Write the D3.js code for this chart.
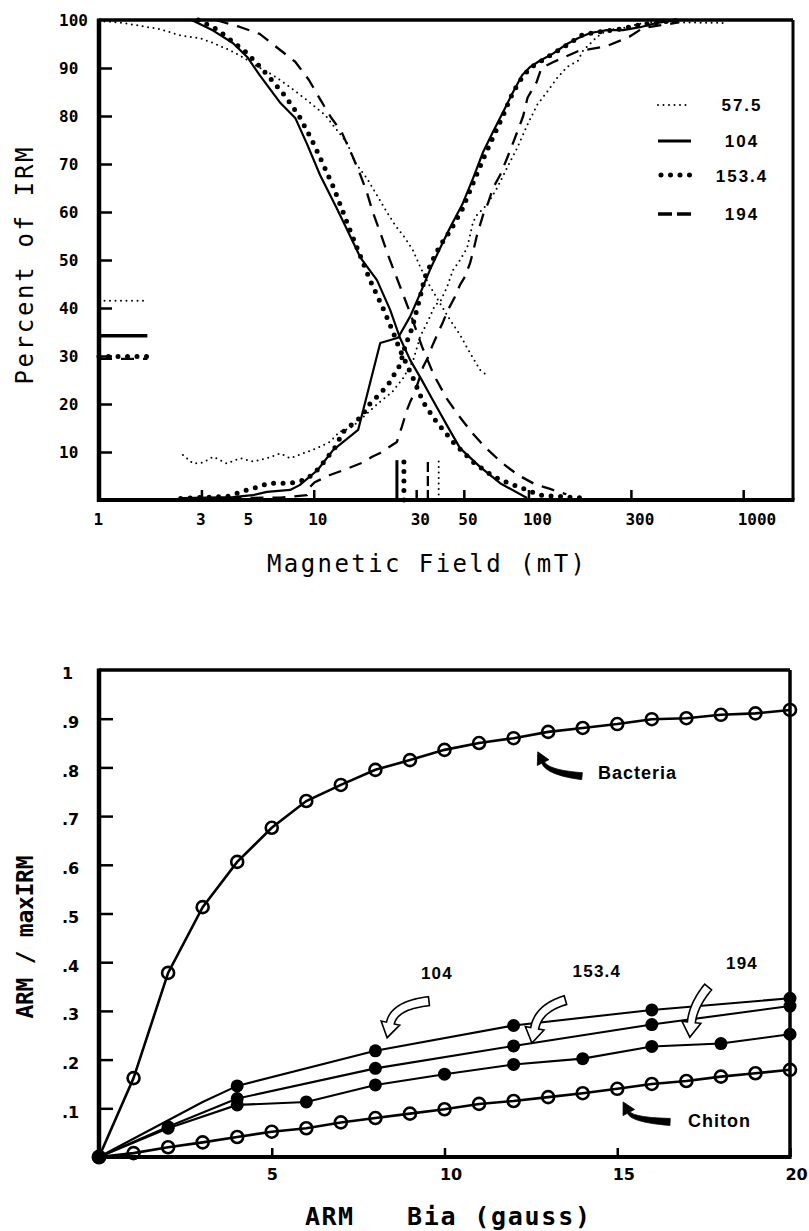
<!DOCTYPE html>
<html><head><meta charset="utf-8">
<script src="https://cdn.jsdelivr.net/npm/d3@7"></script>
<style>body{margin:0;background:#fff}</style>
</head><body>
<svg id="c" width="809" height="1231"></svg>
<script>
// ---------------- DATA : top panel (percent of IRM vs field, mT) ----------------
const seriesNames = ["57.5", "104", "153.4", "194"];
const fieldLabels = [1, 3, 5, 10, 30, 50, 100, 300, 1000];
const fieldTickMarks = [3, 10, 30, 50, 100, 300, 1000];
const percentTicks = [10, 20, 30, 40, 50, 60, 70, 80, 90, 100];

// AF demagnetisation (falling) curves
const desc57 = [[1,99.8],[1.29,99.4],[1.55,98.8],[1.92,98.1],[2.38,96.8],[2.95,96.2],[3.4,95.2],[4.07,93.7],[4.69,92.2],[5.62,90],[6.46,88.5],[7.5,86.5],[9.3,83.3],[11.3,80.2],[12.8,77.1],[14.3,74.4],[15.5,70.5],[16.5,68.8],[17.7,67],[19.7,63.5],[21.9,60],[23.9,57.3],[26.6,54.6],[29,52],[31.3,48.6],[34.1,45.2],[37.9,41.7],[42.2,38.2],[48,34.4],[53.5,30.6],[59.5,27.1],[64,26]];
const desc104 = [[1,100],[2.7,100],[3.4,97.8],[4.2,95.2],[4.9,92.3],[5.6,88.5],[7.0,82.7],[8.2,79.6],[9.3,74.2],[10.7,67.7],[12.8,60.8],[14.7,55.2],[16.5,50.5],[19.7,45.8],[22.7,39.6],[25.2,33.8],[28.1,29.2],[31.3,25.6],[35.9,20.8],[41.8,15.5],[48,10.8],[59.5,6.9],[73.8,3.5],[98.5,0.4]];
const desc153 = [[2.9,100],[3.55,98],[4.0,96.2],[4.9,93.1],[6.1,88.5],[7.35,84.2],[8.5,80.2],[9.8,75],[11,70.2],[12.4,65],[13.8,59.6],[14.6,56.7],[18.3,45.8],[21,40],[23.4,35],[25.2,31.3],[29,25.4],[32.3,20.4],[36.7,16.7],[44.5,12.1],[55.2,7.9],[64,5.8],[74,4.2],[98,2.1],[113,1],[180,0.4]];
const desc194 = [[3.5,100],[4.5,98.6],[5.6,97.1],[7,93.7],[8.2,91.3],[9.5,87.5],[10.7,83.5],[12,79.8],[13.5,76.6],[15.2,71.5],[16.5,67.7],[17.7,64],[18.9,59.8],[20.6,55.2],[22.2,51],[24.4,46.2],[28.1,39],[31.9,32],[36.3,26],[41.8,21],[47.5,17.5],[54.6,14],[63.5,10.8],[75.4,7.7],[89.5,5.2],[107,3.3],[126,2.3],[150,1.2]];

// IRM acquisition (rising) curves
const rise57 = [[2.46,9.4],[2.74,7.6],[3.05,7.8],[3.4,9],[3.94,7.6],[4.54,8.7],[5.22,8],[6.06,8.7],[6.97,9.7],[7.76,8.7],[8.92,9.7],[10.36,10.8],[11.9,12.1],[13.2,14.2],[14.8,15],[16.1,16.3],[17.7,18],[20.4,20.5],[23.2,22.5],[26,25.3],[29,29],[31.3,34],[34.8,38.2],[36.7,40.6],[38.8,41.3],[41.8,44.4],[44.5,47.9],[48,50],[51.8,52.5],[55.2,57.9],[57.6,59.4],[64.1,61.5],[71.4,65],[79.5,69.2],[88.5,73.3],[98.5,78],[109.7,82.3],[122,85],[136,87.9],[151,90.2],[170,91.5],[180,93.7],[209,96.5],[232,97.9],[276,98.3],[342,99.4],[400,99.6],[472,99.5],[806,99.4]];
const rise104 = [[2.44,0.4],[4.2,0.6],[5.2,1],[6.06,1.7],[7.76,2.1],[8.6,3.1],[10.4,6.2],[12.3,10.4],[16.1,14.6],[20.4,32.7],[24.7,33.8],[28.1,38.2],[31.3,43],[34.8,48],[38.8,52.5],[43.1,56.7],[49.1,61.5],[55.2,67],[61.5,72.5],[68.4,76.7],[76.1,80.8],[84.8,85],[93.4,88.5],[101.7,90.2],[113,91.5],[130,93],[151,95],[170,96.2],[194,97.3],[232,97.9],[276,97.9],[331,98.5],[397,99.4],[492,100]];
const rise153 = [[2.4,0.3],[4.0,0.8],[4.9,2.1],[5.5,2.7],[6.2,3.5],[7.1,3.5],[8.0,3.6],[9.1,4.2],[10.1,5.6],[11,7.6],[12.6,11],[13.7,14.2],[16.7,17.4],[18.3,20.1],[20.4,22.2],[22.2,24],[23.9,26.4],[25.2,28.1],[26.6,31.9],[28.7,35.8],[31.3,42.3],[33,46.5],[36.7,51],[38.8,53],[43.1,56],[49.1,60.5],[55.2,66],[61.5,71],[68.4,75.6],[76,80],[84.8,85],[93.4,88],[101.7,90],[113,91.3],[130,93],[151,94.8],[180,97],[210,97.5],[260,98],[330,99],[500,100]];
const rise194 = [[2.5,0.3],[7,0.5],[9.3,1],[9.5,2.5],[10.1,3.7],[11.9,5.2],[13.7,6.2],[16.7,7.7],[18.7,9],[20.4,9.8],[24.4,12.1],[25.7,15.2],[27.2,18.8],[28.1,20.4],[29.6,22.5],[32.3,27.7],[34.1,29.8],[35.5,31.9],[37.9,34.8],[40,37.1],[42.2,39.6],[45.4,42.3],[48,44.8],[50.6,46.5],[53.5,49.4],[55.2,51.7],[57.6,55.2],[61.5,59.4],[65,62],[68.4,65],[73.8,67.7],[79.5,71.2],[84.8,74.4],[91,78],[94.5,80],[99,83.8],[109,87],[115,90],[130,91.2],[170,93.5],[230,94.5],[295,96.5],[340,98.3],[500,99.5]];

// short level marks on the left (percent) and median-field bars at the bottom (mT, percent height)
const leftMarkSeries = ["57.5", "104", "153.4", "194"];
const leftMarkLevel  = [41.5, 34.2, 29.9, 29.4];
const leftMarkField  = [1, 1.68];
const barSeries = ["104", "153.4", "194", "57.5"];
const barField  = [24.4, 26.3, 34, 38.2];
const barHeight = [8.3, 8.8, 8.3, 8.7];

// ---------------- DATA : bottom panel (ARM / maxIRM vs bias field, gauss) ----------------
const biasTicks = [5, 10, 15, 20];
const ratioTicks = [0.1, 0.2, 0.3, 0.4, 0.5, 0.6, 0.7, 0.8, 0.9, 1];
const ratioLabels = [".1", ".2", ".3", ".4", ".5", ".6", ".7", ".8", ".9", "1"];
const biasSteps = [0,1,2,3,4,5,6,7,8,9,10,11,12,13,14,15,16,17,18,19,20];
const bacteria = [0,0.162,0.378,0.513,0.606,0.676,0.731,0.764,0.795,0.815,0.836,0.85,0.86,0.873,0.881,0.889,0.899,0.901,0.908,0.911,0.918];
const chiton   = [0,0.008,0.02,0.03,0.041,0.052,0.059,0.071,0.08,0.089,0.098,0.109,0.115,0.123,0.131,0.14,0.15,0.156,0.165,0.172,0.179];
const arm104 = [[0,0],[3,0.113],[4,0.146],[8,0.218],[12,0.27],[16,0.302],[20,0.326]];
const arm153 = [[0,0],[2,0.062],[4,0.12],[8,0.182],[12,0.228],[16,0.272],[20,0.31]];
const arm194 = [[0,0],[2,0.059],[4,0.107],[6,0.113],[8,0.148],[10,0.17],[12,0.19],[14,0.202],[16,0.227],[18,0.233],[20,0.252]];

// annotations (data coordinates of bottom panel)
const labelNames = ["104", "153.4", "194"];
const labelPos = [[9.78,0.38],[14.41,0.384],[18.61,0.40]];
const hollowArrows = [ // tail, control, tip
  [[9.55,0.320],[8.55,0.312],[8.34,0.245]],
  [[13.5,0.322],[12.72,0.306],[12.53,0.234]],
  [[17.63,0.349],[17.2,0.312],[17.1,0.246]]
];
const noteNames = ["Bacteria", "Chiton"];
const notePos = [[14.44,0.776],[17.05,0.062]];
const solidArrows = [
  [[13.98,0.782],[13.0,0.789],[12.7,0.832]],
  [[16.53,0.072],[15.45,0.076],[15.17,0.113]]
];

// ---------------- DRAWING ----------------
const svg = d3.select("#c");
svg.append("rect").attr("width", 809).attr("height", 1231).attr("fill", "#fff");
const MONO = "DejaVu Sans Mono", SANS = "Liberation Sans";

const style = {
  "57.5":  {w: 2,   dash: "0,5.5", cap: "round"},
  "104":   {w: 2.2, dash: null,    cap: "butt"},
  "153.4": {w: 5,   dash: "0,9.5", cap: "round"},
  "194":   {w: 2.3, dash: "13,9",  cap: "butt"}
};
function styled(sel, name){
  const s = style[name];
  sel.attr("fill","none").attr("stroke","#000").attr("stroke-width", s.w)
     .attr("stroke-linecap", s.cap).attr("stroke-linejoin","round");
  if (s.dash) sel.attr("stroke-dasharray", s.dash);
  return sel;
}

// ---- top panel ----
const xT = d3.scaleLog().domain([1, 1706]).range([99, 793]);
const yT = d3.scaleLinear().domain([0, 100]).range([500, 20]);
const lineT = d3.line().x(d => xT(d[0])).y(d => yT(d[1]));

const topG = svg.append("g");
const curves = [
  ["57.5", desc57], ["57.5", rise57],
  ["104", desc104], ["104", rise104],
  ["153.4", desc153], ["153.4", rise153],
  ["194", desc194], ["194", rise194]
];
curves.forEach(([n, d]) => styled(topG.append("path").attr("d", lineT(d)), n));

leftMarkSeries.forEach((n, i) => {
  const p = topG.append("path").attr("d", lineT(leftMarkField.map(f => [f, leftMarkLevel[i]])));
  styled(p, n);
  if (n === "104") p.attr("stroke-width", 3.5);
});
barSeries.forEach((n, i) => {
  const p = topG.append("path").attr("d", lineT([[barField[i], 0], [barField[i], barHeight[i]]]));
  styled(p, n);
  if (n === "104") p.attr("stroke-width", 3);
  if (n === "194") p.attr("stroke-dasharray", "10,4");
});

// axes top
const gxT = svg.append("g").attr("transform", "translate(0,500)")
  .call(d3.axisBottom(xT).tickValues(fieldLabels).tickFormat(d => String(d)).tickSize(-10).tickPadding(14));
gxT.select(".domain").remove();
gxT.selectAll(".tick line").attr("stroke", "#000").attr("stroke-width", 2.5)
   .attr("opacity", d => fieldTickMarks.includes(d) ? 1 : 0);
gxT.selectAll(".tick text").attr("text-anchor", "start").attr("x", -6)
   .attr("font-family", MONO).attr("font-weight", "bold").attr("font-size", 16).attr("fill", "#000");

const gyT = svg.append("g").attr("transform", "translate(99,0)")
  .call(d3.axisLeft(yT).tickValues(percentTicks).tickFormat(d => String(d)).tickSize(-13));
gyT.select(".domain").remove();
gyT.selectAll(".tick line").attr("stroke", "#000").attr("stroke-width", 2.5)
   .attr("opacity", d => d === 100 ? 0 : 1);
gyT.selectAll(".tick text").attr("text-anchor", "start").attr("x", -40).attr("dy", "0.36em")
   .attr("font-family", MONO).attr("font-weight", "bold").attr("font-size", 16).attr("fill", "#000");

// frame top
const fT = svg.append("g").attr("stroke", "#000").attr("fill", "none");
fT.append("line").attr("x1", xT.range()[0]).attr("x2", xT.range()[1]).attr("y1", yT(100)).attr("y2", yT(100)).attr("stroke-width", 3.5);
fT.append("line").attr("x1", xT.range()[1]).attr("x2", xT.range()[1]).attr("y1", yT(100)).attr("y2", yT(0)).attr("stroke-width", 3);
fT.append("line").attr("x1", xT.range()[0]).attr("x2", xT.range()[1] + 1.5).attr("y1", yT(0)).attr("y2", yT(0)).attr("stroke-width", 4);
fT.append("line").attr("x1", xT.range()[0]).attr("x2", xT.range()[0]).attr("y1", yT(100) - 1.5).attr("y2", yT(0) + 2).attr("stroke-width", 4.5);

// legend top
const lg = svg.append("g");
const legY = [105, 141, 175, 214];
seriesNames.forEach((n, i) => {
  const y = legY[i];
  const p = lg.append("line").attr("x1", 658).attr("x2", 691).attr("y1", y).attr("y2", y);
  styled(p, n);
  if (n === "104") p.attr("stroke-width", 3);
  if (n === "194") p.attr("stroke-width", 3.5).attr("stroke-dasharray", "14,5");
  if (n === "153.4") p.attr("x1", 661).attr("stroke-dasharray", "0,9.5");
  lg.append("text").attr("x", 742).attr("y", y + (n === "153.4" ? 7 : 6)).attr("text-anchor", "middle")
    .attr("font-family", SANS).attr("font-weight", "bold").attr("font-size", 17)
    .attr("letter-spacing", 2).text(n);
});

// titles top
svg.append("text").attr("x", 267).attr("y", 572).attr("font-family", MONO).attr("font-size", 24)
  .attr("textLength", 318).attr("lengthAdjust", "spacing").text("Magnetic Field (mT)");
svg.append("text").attr("transform", "translate(33,266) rotate(-90)").attr("text-anchor", "middle")
  .attr("font-family", MONO).attr("font-size", 24)
  .attr("textLength", 237).attr("lengthAdjust", "spacing").text("Percent of IRM");

// ---- bottom panel ----
const xB = d3.scaleLinear().domain([0, 20]).range([99, 790]);
const yB = d3.scaleLinear().domain([0, 1]).range([1157, 670]);
const lineB = d3.line().x(d => xB(d[0])).y(d => yB(d[1]));
const bot = svg.append("g");

const bactPts = biasSteps.map((b, i) => [b, bacteria[i]]);
const chitPts = biasSteps.map((b, i) => [b, chiton[i]]);

[arm104, arm153, arm194].forEach(d => {
  bot.append("path").attr("d", lineB(d)).attr("fill", "none").attr("stroke", "#000").attr("stroke-width", 2.1);
});
[bactPts, chitPts].forEach(d => {
  bot.append("path").attr("d", lineB(d)).attr("fill", "none").attr("stroke", "#000").attr("stroke-width", 2.6);
});
[arm104, arm153, arm194].forEach(d => {
  bot.selectAll(null).data(d.filter(p => p[0] > 0 && p[0] % 2 === 0)).enter().append("circle")
    .attr("cx", p => xB(p[0])).attr("cy", p => yB(p[1])).attr("r", 6.5).attr("fill", "#000");
});
[bactPts, chitPts].forEach(d => {
  bot.selectAll(null).data(d.filter(p => p[0] > 0)).enter().append("circle")
    .attr("cx", p => xB(p[0])).attr("cy", p => yB(p[1])).attr("r", 6).attr("fill", "none")
    .attr("stroke", "#000").attr("stroke-width", 2.6);
});
bot.append("circle").attr("cx", xB(0)).attr("cy", yB(0)).attr("r", 7.5).attr("fill", "#000");

// arrows
function arrowPath(T, C, P, w0, w1, hw, hl) {
  const dx = P[0] - C[0], dy = P[1] - C[1], L = Math.hypot(dx, dy);
  const ux = dx / L, uy = dy / L;
  const B = [P[0] - ux * hl, P[1] - uy * hl];
  const N = 24, left = [], right = [];
  for (let i = 0; i <= N; i++) {
    const t = i / N, mt = 1 - t;
    const x = mt * mt * T[0] + 2 * mt * t * C[0] + t * t * B[0];
    const y = mt * mt * T[1] + 2 * mt * t * C[1] + t * t * B[1];
    const tx = 2 * mt * (C[0] - T[0]) + 2 * t * (B[0] - C[0]);
    const ty = 2 * mt * (C[1] - T[1]) + 2 * t * (B[1] - C[1]);
    const tl = Math.hypot(tx, ty) || 1, nx = -ty / tl, ny = tx / tl;
    const ww = (w0 + (w1 - w0) * t) / 2;
    left.push([x + nx * ww, y + ny * ww]);
    right.push([x - nx * ww, y - ny * ww]);
  }
  const nx = -uy, ny = ux;
  const pts = [...left, [B[0] + nx * hw / 2, B[1] + ny * hw / 2], P, [B[0] - nx * hw / 2, B[1] - ny * hw / 2], ...right.reverse()];
  return d3.line()(pts) + "Z";
}
const px = p => [xB(p[0]), yB(p[1])];
hollowArrows.forEach(a => {
  bot.append("path").attr("d", arrowPath(px(a[0]), px(a[1]), px(a[2]), 9, 8, 19, 15))
    .attr("fill", "#fff").attr("stroke", "#000").attr("stroke-width", 1.6).attr("stroke-linejoin", "miter");
});
solidArrows.forEach(a => {
  bot.append("path").attr("d", arrowPath(px(a[0]), px(a[1]), px(a[2]), 7, 3, 13, 12))
    .attr("fill", "#000").attr("stroke", "#000").attr("stroke-width", 0.8);
});
labelNames.forEach((n, i) => {
  bot.append("text").attr("x", xB(labelPos[i][0])).attr("y", yB(labelPos[i][1]) + 7).attr("text-anchor", "middle")
    .attr("font-family", SANS).attr("font-weight", "bold").attr("font-size", 17).attr("letter-spacing", 1.2).text(n);
});
noteNames.forEach((n, i) => {
  bot.append("text").attr("x", xB(notePos[i][0])).attr("y", yB(notePos[i][1]))
    .attr("font-family", SANS).attr("font-weight", "bold").attr("font-size", 18).attr("letter-spacing", 1).text(n);
});

// axes bottom
const gxB = svg.append("g").attr("transform", "translate(0,1157)")
  .call(d3.axisBottom(xB).tickValues(biasTicks).tickFormat(d => String(d)).tickSize(-9).tickPadding(12));
gxB.select(".domain").remove();
gxB.selectAll(".tick line").attr("stroke", "#000").attr("stroke-width", 2.5);
gxB.selectAll(".tick text").attr("x", d => d >= 10 ? 6 : 0)
   .attr("font-family", "DejaVu Sans").attr("font-weight", "bold").attr("font-size", 16).attr("fill", "#000");

const gyB = svg.append("g").attr("transform", "translate(99,0)")
  .call(d3.axisLeft(yB).tickValues(ratioTicks).tickFormat((d, i) => ratioLabels[i]).tickSize(-14));
gyB.select(".domain").remove();
gyB.selectAll(".tick line").attr("stroke", "#000").attr("stroke-width", 2.5)
   .attr("opacity", d => d === 1 ? 0 : 1);
gyB.selectAll(".tick text").attr("text-anchor", "start").attr("x", -37).attr("dy", "0.55em")
   .attr("font-family", "DejaVu Sans").attr("font-weight", "bold").attr("font-size", 16).attr("fill", "#000");

const fB = svg.append("g").attr("stroke", "#000").attr("fill", "none");
fB.append("line").attr("x1", xB(0)).attr("x2", xB(20)).attr("y1", yB(1)).attr("y2", yB(1)).attr("stroke-width", 3.5);
fB.append("line").attr("x1", xB(20)).attr("x2", xB(20)).attr("y1", yB(1)).attr("y2", yB(0)).attr("stroke-width", 3.5);
fB.append("line").attr("x1", xB(0)).attr("x2", xB(20) + 1.5).attr("y1", yB(0)).attr("y2", yB(0)).attr("stroke-width", 4);
fB.append("line").attr("x1", xB(0)).attr("x2", xB(0)).attr("y1", yB(1) - 1.5).attr("y2", yB(0) + 2).attr("stroke-width", 4.5);

// titles bottom
svg.append("text").attr("x", 305).attr("y", 1225).attr("font-family", MONO).attr("font-weight", "bold").attr("font-size", 25)
  .attr("textLength", 48).attr("lengthAdjust", "spacing").text("ARM");
svg.append("text").attr("x", 407).attr("y", 1225).attr("font-family", MONO).attr("font-weight", "bold").attr("font-size", 25)
  .attr("textLength", 183).attr("lengthAdjust", "spacing").text("Bia (gauss)");
svg.append("text").attr("transform", "translate(33,937) rotate(-90)").attr("text-anchor", "middle")
  .attr("font-family", MONO).attr("font-weight", "bold").attr("font-size", 23)
  .attr("textLength", 163).attr("lengthAdjust", "spacing").text("ARM / maxIRM");
</script>
</body></html>
